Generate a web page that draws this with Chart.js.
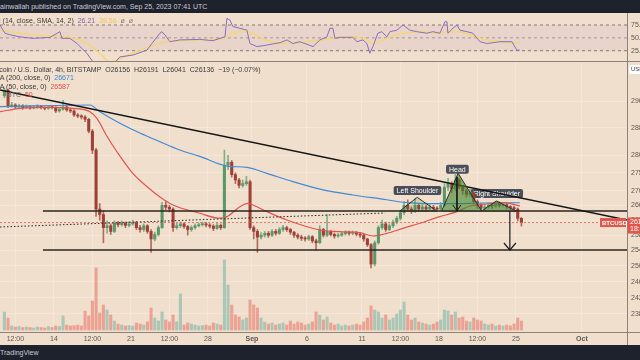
<!DOCTYPE html>
<html>
<head>
<meta charset="utf-8">
<script src="https://cdn.jsdelivr.net/npm/chart.js@4.4.0/dist/chart.umd.min.js"></script>
<style>
  body { margin:0; width:640px; height:360px; overflow:hidden; position:relative; background:#f1dfcd; font-family:"Liberation Sans", Arial, sans-serif; }
  .bar { position:absolute; left:0; width:640px; background:#1e222d; color:#c9ccd4; font-size:7px; white-space:nowrap; }
  canvas { position:absolute; left:0; }
  .txt { position:absolute; white-space:nowrap; font-size:7px; line-height:8px; color:#3a3a3a; }
  .sep { position:absolute; background:#8e827a; }
</style>
</head>
<body>
<div class="bar" style="top:0;height:13px;line-height:13px;">ainwallah published on TradingView.com, Sep 25, 2023 07:41 UTC</div>
<canvas id="rsiChart" width="640" height="49" style="top:13px"></canvas>
<canvas id="priceChart" width="640" height="283" style="top:62px"></canvas>
<div class="sep" style="left:0;top:61px;width:640px;height:1px"></div>
<div class="sep" style="left:0;top:332px;width:640px;height:1px"></div>
<div class="sep" style="left:627px;top:13px;width:1px;height:332px"></div>
<div class="bar" style="top:345px;height:15px;line-height:15px;">TradingView</div>

<div class="txt" style="left:-11px;top:17px">RSI (14, close, SMA, 14, 2)&nbsp; <span style="color:#7e5fb8">26.21</span>&nbsp; <span style="color:#e8c95a">39.56</span>&nbsp; <span style="color:#8a7f78">ø&nbsp; ø</span></div>
<div class="txt" style="left:-9px;top:66px">Bitcoin / U.S. Dollar, 4h, BITSTAMP&nbsp; O26156&nbsp; H26191&nbsp; L26041&nbsp; C26136&nbsp; −19 (−0.07%)</div>
<div class="txt" style="left:-6px;top:74px">MA (200, close, 0)&nbsp; <span style="color:#3f86d4">26671</span></div>
<div class="txt" style="left:-6px;top:83px">MA (50, close, 0)&nbsp; <span style="color:#e0514a">26587</span></div>
<div class="txt" style="left:7px;top:91px;color:#6b6b6b">BTC&nbsp; <span style="color:#e0514a">50</span></div>
<div class="txt" style="left:629px;top:65px;width:14px;height:9px;background:#fff;border-radius:2px;font-size:6px;line-height:9px;padding-left:2px">USD</div>

<script>
// time is in days from Sep 1 00:00 UTC, candles bucketed by 8h
const viewStartDay = -22.9;
const viewEndDay = 34.1;
const candleStartDay = -22 - 2 / 3;
const candleStepDay = 1 / 3;
const firstOpen = 29760;

const closes = [
  29930, 29450, 29480, 29420, 29450, 29400, 29430, 29390, 29410, 29440,
  29400, 29380, 29420, 29400, 29300, 29350, 29420, 29330, 29300, 29180,
  29150, 29120, 29050, 28700, 28150, 26500, 26350, 26000, 26050, 25900,
  26120, 26080, 26120, 26060, 26100, 26140, 26000, 25950, 26050, 25900,
  25700, 25820, 26000, 26600, 26550, 26500, 26000, 26050, 26100, 26030,
  25950, 26000, 26050, 26080, 26100, 26070, 26040, 25980, 26060, 26000,
  27720, 27800, 27450, 27300, 27150, 27200, 27250, 26000, 25900, 25750,
  25800, 25850, 25800, 25900, 25850, 25950, 26000, 25950, 25880, 25800,
  25750, 25720, 25700, 25760, 25650, 25600, 25950, 25800, 25900, 25820,
  25780, 25800, 25840, 25880, 25850, 25870, 25830, 25800, 25700, 25550,
  25050, 25600, 26000, 26100, 25950, 26050, 26150, 26250, 26400, 26600,
  26500, 26450, 26600, 26500, 26550, 26500, 26550, 26520, 26500, 26600,
  27100, 27200, 27050, 27300, 27100, 27000, 26900, 26950, 26700, 26600,
  26520, 26560, 26600, 26580, 26650, 26600, 26620, 26560, 26540, 26500,
  26250, 26136
];
const highs = [
  30000, 29960, 29560, 29520, 29500, 29490, 29480, 29460, 29450, 29490,
  29470, 29430, 29460, 29450, 29430, 29400, 29620, 29450, 29370, 29330,
  29220, 29190, 29160, 29080, 28750, 28200, 26650, 26450, 26180, 26100,
  26180, 26170, 26180, 26150, 26160, 26200, 26170, 26060, 26100, 26080,
  25950, 25880, 26050, 26680, 26700, 26600, 26530, 26120, 26150, 26130,
  26060, 26050, 26100, 26130, 26150, 26140, 26110, 26080, 26120, 26100,
  28150, 28000, 27850, 27500, 27350, 27300, 27400, 27300, 26050, 25950,
  25870, 25900, 25900, 25950, 25950, 26000, 26060, 26040, 25980, 25900,
  25840, 25800, 25760, 25800, 25790, 25700, 26050, 25980, 26350, 25930,
  25860, 25850, 25880, 25920, 25910, 25910, 25900, 25860, 25830, 25720,
  25580, 25650, 26050, 26200, 26150, 26100, 26200, 26300, 26450, 26700,
  26750, 26560, 26800, 26650, 26620, 26600, 26620, 26600, 26570, 26680,
  27200, 27350, 27250, 27480, 27350, 27150, 27050, 27050, 26980, 26750,
  26650, 26620, 26650, 26640, 26700, 26700, 26680, 26650, 26600, 26580,
  26530, 26270
];
const lows = [
  29700, 29400, 29410, 29370, 29380, 29350, 29370, 29350, 29360, 29380,
  29360, 29330, 29350, 29360, 29250, 29260, 29320, 29290, 29250, 29140,
  29100, 29060, 28980, 28650, 28050, 26300, 26200, 25600, 25850, 25820,
  25870, 26020, 26040, 26000, 26020, 26060, 25950, 25880, 25900, 25850,
  25350, 25650, 25780, 25980, 26480, 26420, 25900, 25960, 26000, 25980,
  25800, 25900, 25960, 26020, 26040, 26020, 25990, 25920, 25950, 25950,
  25980, 27600, 27380, 27200, 27080, 27100, 27150, 25950, 25700, 25350,
  25700, 25750, 25740, 25760, 25800, 25820, 25900, 25900, 25820, 25740,
  25700, 25660, 25640, 25660, 25600, 25400, 25580, 25750, 25760, 25780,
  25720, 25740, 25770, 25800, 25800, 25810, 25780, 25740, 25640, 25500,
  24950, 25000, 25560, 25950, 25900, 25920, 26000, 26100, 26200, 26350,
  26450, 26380, 26400, 26440, 26460, 26430, 26460, 26460, 26440, 26460,
  26560, 27000, 26950, 27000, 27050, 26900, 26820, 26850, 26650, 26520,
  26450, 26480, 26520, 26520, 26550, 26550, 26560, 26500, 26480, 26420,
  26180, 26041
];
const volumes = [
  180, 120, 40, 30, 35, 25, 30, 25, 20, 30,
  25, 20, 35, 25, 40, 35, 140, 50, 40, 45,
  50, 40, 190, 140, 290, 620, 170, 250, 200, 150,
  90, 60, 50, 40, 45, 40, 70, 60, 50, 80,
  220, 120, 90, 180, 100, 80, 150, 80, 360, 50,
  70, 60, 50, 40, 45, 50, 40, 70, 60, 50,
  700, 450, 250, 150, 130, 100, 120, 300, 250, 220,
  120, 80, 60, 70, 50, 60, 70, 50, 90, 60,
  80, 70, 50, 60, 80, 180, 150, 100, 130, 70,
  50, 60, 40, 50, 40, 50, 60, 50, 80, 120,
  240, 200, 180, 120, 150, 100, 120, 160, 200, 280,
  150, 100, 120, 80, 70, 60, 50, 60, 80, 100,
  200, 190, 150, 180, 120, 130, 90, 80, 120, 100,
  90, 60, 50, 60, 40, 50, 40, 50, 40, 60,
  120, 90
];

const ma200Days = [-22.91, -14.73, -13.82, -12.0, -10.18, -8.36, -6.55, -4.73, -2.27, -0.45, 1.36, 3.73, 6.18, 9.18, 12.27, 13.73, 15.27, 18.27, 20.73, 24.36];
const ma200Values = [29430, 29479, 29277, 28935, 28646, 28392, 28151, 27967, 27693, 27656, 27487, 27253, 27046, 26884, 26754, 26685, 26656, 26646, 26664, 26671];
const ma50Days = [-22.91, -21.09, -18.36, -16.27, -14.73, -14.09, -13.18, -12.27, -10.82, -9.55, -8.36, -7.18, -4.73, -2.91, -2.27, -1.09, -0.36, 0.09, 1.36, 3.18, 6.18, 8.0, 9.82, 11.0, 12.27, 13.73, 15.27, 17.09, 18.64, 19.82, 21.36, 22.82, 24.36];
const ma50Values = [29277, 29380, 29410, 29380, 29277, 29080, 28551, 28102, 27487, 27120, 26830, 26610, 26385, 26252, 26294, 26563, 26655, 26610, 26430, 26204, 25937, 25893, 25866, 25779, 25850, 25982, 26116, 26294, 26429, 26582, 26637, 26673, 26587];

const rsiDays = [-22.91, -22.45, -22.0, -21.09, -19.9, -18.36, -17.45, -17.27, -16.55, -15.9, -15.0, -14.45, -13.8, -13.0, -12.45, -12.0, -10.8, -9.55, -9.09, -8.36, -8.18, -7.9, -7.45, -6.55, -4.73, -3.55, -2.9, -2.45, -2.27, -2.0, -1.73, -1.09, -0.45, -0.18, 0.45, 1.36, 2.55, 3.18, 3.73, 4.36, 5.55, 6.18, 6.82, 7.09, 7.36, 7.55, 8.0, 9.18, 9.55, 10.09, 10.45, 10.73, 11.0, 11.45, 11.82, 12.27, 12.55, 13.18, 13.73, 14.36, 15.0, 15.91, 16.45, 17.09, 17.55, 17.73, 17.82, 18.27, 18.64, 18.91, 19.55, 20.09, 20.73, 21.36, 21.91, 22.55, 23.64, 24.09, 24.36];
const rsiValues = [75, 59, 56, 52, 49, 51, 62, 49, 49, 39, 20, 3, 1, 1, 2, 13, 16.6, 26, 39, 59, 62, 55.5, 42.5, 46, 47, 44.5, 49, 52, 88, 84.7, 72, 68.6, 65, 39, 33, 36, 40.6, 46, 39, 42.5, 33, 46, 52, 68.6, 68.6, 49, 51, 51, 42.5, 46, 39, 20, 33, 59, 62, 52, 62, 65, 75, 65, 62, 59, 62, 59, 81.4, 81.4, 59, 68.6, 75, 65, 62, 59, 42.5, 39, 40.6, 42.5, 42.5, 26, 26.21];
const rsiMaDays = [-22.91, -22.0, -19.91, -16.82, -15.0, -13.82, -12.91, -12.27, -10.82, -9.27, -7.73, -6.27, -4.73, -2.91, -1.73, -0.45, 0.09, 1.36, 2.82, 4.36, 6.18, 6.82, 8.0, 9.18, 10.45, 11.0, 12.27, 13.73, 15.27, 16.82, 17.73, 18.91, 19.82, 21.36, 22.82, 24.36];
const rsiMaValues = [65, 62, 55.5, 52, 39, 20, 3, 7, 20, 33, 42.5, 44.5, 46, 47, 59, 63, 58, 45, 39, 40.6, 46, 47, 52, 52, 46, 39, 49, 59, 62, 59, 62, 62, 55.5, 46, 42.5, 39.56];
const rsiLevels = [75, 50, 25];

const xTickDays = [-21.5, -18, -14.5, -11, -7.5, -4, 0, 5, 10, 13.5, 17, 20.5, 24, 30];
const xTickLabels = ['12:00', '14', '12:00', '21', '12:00', '28', 'Sep', '6', '11', '12:00', '18', '12:00', '25', 'Oct'];
const priceTicks = [29600, 28800, 28000, 27500, 27000, 26600, 26200, 25800, 25400, 25000, 24600, 24200, 23800];
const rsiTicks = [25, 50, 75];

// drawings (day, price)
const trendDays = [-22.9, 34.1], trendPrices = [29935, 26204];
const necklineDays = [-19.0, 34.1], necklinePrice = 26447;
const supportDays = [-19.0, 34.1], supportPrice = 25412;
const dottedDays = [-22.9, 12.09], dottedPrices = [26017, 26393];
const lastPrice = 26136;
const headDays = [17.25, 18.75, 20.88, 17.25], headPrices = [26447, 27487, 26447, 26447];
const leftShoulderDays = [13.45, 15.03, 16.82, 13.45], leftShoulderPrices = [26447, 26818, 26447, 26447];
const rightShoulderDays = [20.88, 22.23, 24.0, 20.88], rightShoulderPrices = [26447, 26720, 26447, 26447];
const headMoveDays = [18.64, 18.64], headMovePrices = [27384, 26447];
const headMoveTipDays = [18.27, 18.64, 19.0], headMoveTipPrices = [26610, 26447, 26610];
const targetDays = [23.45, 23.45], targetPrices = [26447, 25412];
const targetTipDays = [22.91, 23.45, 24.0], targetTipPrices = [25594, 25412, 25594];
const patternLabels = ['Left Shoulder', 'Head', 'Right Shoulder'];
const patternLabelDays = [15.05, 18.68, 22.27];
const patternLabelPrices = [27008, 27600, 26925];

const opens = closes.map((c, i) => (i ? closes[i - 1] : firstOpen));
const candleDays = closes.map((c, i) => candleStartDay + (i + 0.5) * candleStepDay);
const rising = closes.map((c, i) => c >= opens[i]);

const pts = (days, vals) => days.map((d, i) => ({ x: d, y: Array.isArray(vals) ? vals[i] : vals }));
const line = (data, color, extra) => Object.assign({
  type: 'line', data, borderColor: color, borderWidth: 1, pointRadius: 0, fill: false, yAxisID: 'y'
}, extra);

const upColor = '#5a9868', downColor = '#9e4035';

const tagPlugin = {
  id: 'tags',
  beforeDatasetsDraw(chart) {
    const { ctx, scales } = chart;
    ctx.save();
    ctx.font = '7px "Liberation Sans", Arial, sans-serif';
    ctx.textAlign = 'center';
    ctx.textBaseline = 'middle';
    patternLabels.forEach((t, i) => {
      const x = scales.x.getPixelForValue(patternLabelDays[i]);
      const y = scales.y.getPixelForValue(patternLabelPrices[i]);
      const w = ctx.measureText(t).width + 6;
      ctx.fillStyle = '#4b4e58';
      ctx.beginPath();
      ctx.roundRect(x - w / 2, y - 4.5, w, 9, 2);
      ctx.fill();
      ctx.fillStyle = '#ffffff';
      ctx.fillText(t, x, y + 0.5);
    });
    ctx.restore();
  },
  afterDraw(chart) {
    const { ctx, scales, chartArea } = chart;
    const y = scales.y.getPixelForValue(lastPrice);
    ctx.save();
    ctx.fillStyle = '#e2574c';
    ctx.fillRect(chartArea.right - 27, y - 4.5, 26, 9);
    ctx.fillRect(chartArea.right + 1, y - 5, 13, 16);
    ctx.fillStyle = '#ffffff';
    ctx.font = 'bold 6px "Liberation Sans", Arial, sans-serif';
    ctx.textBaseline = 'middle';
    ctx.fillText('BTCUSD', chartArea.right - 25, y + 0.5);
    ctx.font = '7px "Liberation Sans", Arial, sans-serif';
    ctx.fillText(lastPrice.toFixed(2), chartArea.right + 3, y - 0.5);
    ctx.fillText('18:59', chartArea.right + 3, y + 6.5);
    ctx.restore();
  }
};

new Chart(document.getElementById('priceChart'), {
  type: 'bar',
  data: {
    datasets: [
      line(pts(headMoveDays, headMovePrices), '#1b1b1b', { order: 1 }),
      line(pts(headMoveTipDays, headMoveTipPrices), '#1b1b1b', { order: 1 }),
      line(pts(targetDays, targetPrices), '#1b1b1b', { order: 1, borderWidth: 1.2 }),
      line(pts(targetTipDays, targetTipPrices), '#1b1b1b', { order: 1, borderWidth: 1.2 }),
      line(pts(headDays, headPrices), '#2e2e2e', { order: 2, fill: 'shape', backgroundColor: 'rgba(62,132,42,0.6)' }),
      line(pts(rightShoulderDays, rightShoulderPrices), '#2e2e2e', { order: 2, fill: 'shape', backgroundColor: 'rgba(62,132,42,0.6)' }),
      line(pts(leftShoulderDays, leftShoulderPrices), '#2e2e2e', { order: 2, fill: 'shape', backgroundColor: 'rgba(62,132,42,0.15)' }),
      line(pts(trendDays, trendPrices), '#161616', { order: 3, borderWidth: 1.4 }),
      line(pts(necklineDays, necklinePrice), '#2b2522', { order: 3, borderWidth: 1.4 }),
      line(pts(supportDays, supportPrice), '#2b2522', { order: 3, borderWidth: 1.4 }),
      line(pts(dottedDays, dottedPrices), '#2b2522', { order: 3, borderDash: [1.5, 2] }),
      line(pts([viewStartDay, viewEndDay], lastPrice), 'rgba(226,87,76,0.75)', { order: 4, borderDash: [2, 2] }),
      line(pts(ma50Days, ma50Values), '#e3544c', { order: 5, borderWidth: 1.2, cubicInterpolationMode: 'monotone' }),
      line(pts(ma200Days, ma200Values), '#4289d6', { order: 5, borderWidth: 1.2, cubicInterpolationMode: 'monotone' }),
      {
        type: 'bar', order: 6, grouped: false, barThickness: 2.4, minBarLength: 1, yAxisID: 'y',
        data: closes.map((c, i) => ({ x: candleDays[i], y: [opens[i], c] })),
        backgroundColor: rising.map(r => (r ? upColor : downColor))
      },
      {
        type: 'bar', order: 7, grouped: false, barThickness: 1, yAxisID: 'y',
        data: closes.map((c, i) => ({ x: candleDays[i], y: [lows[i], highs[i]] })),
        backgroundColor: rising.map(r => (r ? '#7fae88' : '#b46a60'))
      },
      {
        type: 'bar', order: 8, grouped: false, barThickness: 2.4, yAxisID: 'yv',
        data: volumes.map((v, i) => ({ x: candleDays[i], y: v })),
        backgroundColor: rising.map(r => (r ? 'rgba(70,165,150,0.42)' : 'rgba(232,100,90,0.5)'))
      }
    ]
  },
  options: {
    responsive: false,
    animation: false,
    devicePixelRatio: 1,
    layout: { padding: 0 },
    plugins: { legend: { display: false }, tooltip: { enabled: false } },
    scales: {
      x: {
        type: 'linear', min: viewStartDay, max: viewEndDay, bounds: 'data', offset: false,
        afterBuildTicks: s => { s.ticks = xTickDays.map(v => ({ value: v })); },
        afterFit: s => { s.height = 13; s.paddingLeft = 0; s.paddingRight = 0; },
        ticks: {
          autoSkip: false, maxRotation: 0, padding: 3, color: '#5b5755',
          font: c => ({ size: 7, weight: /^[A-Z]/.test(xTickLabels[c.index] || '') ? 'bold' : 'normal' }),
          callback: (v, i) => xTickLabels[i]
        },
        grid: { color: 'rgba(255,255,255,0.22)', drawTicks: false, offset: false },
        border: { display: false }
      },
      y: {
        type: 'logarithmic', position: 'right', min: 23365, max: 30806, bounds: 'data',
        afterBuildTicks: s => { s.ticks = priceTicks.map(v => ({ value: v })); },
        afterFit: s => { s.width = 13; s.paddingTop = 0; s.paddingBottom = 0; },
        ticks: { padding: 4, color: '#5b5755', font: { size: 7 }, callback: v => Number(v).toFixed(2) },
        grid: { color: 'rgba(255,255,255,0.22)', drawTicks: false },
        border: { display: false }
      },
      yv: { display: false, min: -20, max: 2680 }
    }
  },
  plugins: [tagPlugin]
});

new Chart(document.getElementById('rsiChart'), {
  type: 'line',
  data: {
    datasets: [
      { data: pts([viewStartDay, viewEndDay], rsiLevels[0]), borderColor: 'rgba(120,110,105,0.9)', borderDash: [3, 3], borderWidth: 1, pointRadius: 0, fill: '+2', backgroundColor: 'rgba(126,87,194,0.08)', order: 5 },
      { data: pts([viewStartDay, viewEndDay], rsiLevels[1]), borderColor: 'rgba(120,110,105,0.6)', borderDash: [3, 3], borderWidth: 1, pointRadius: 0, fill: false, order: 5 },
      { data: pts([viewStartDay, viewEndDay], rsiLevels[2]), borderColor: 'rgba(120,110,105,0.9)', borderDash: [3, 3], borderWidth: 1, pointRadius: 0, fill: false, order: 5 },
      { data: pts(rsiMaDays, rsiMaValues), borderColor: 'rgba(245,214,110,0.9)', borderWidth: 1.5, pointRadius: 0, cubicInterpolationMode: 'monotone', order: 2 },
      { data: pts(rsiDays, rsiValues), borderColor: '#8a6cc0', borderWidth: 1, pointRadius: 0, order: 1 }
    ]
  },
  options: {
    responsive: false,
    animation: false,
    devicePixelRatio: 1,
    layout: { padding: 0 },
    plugins: { legend: { display: false }, tooltip: { enabled: false } },
    scales: {
      x: { type: 'linear', min: viewStartDay, max: viewEndDay, display: false },
      y: {
        position: 'right', min: 3.02, max: 98.35,
        afterBuildTicks: s => { s.ticks = rsiTicks.map(v => ({ value: v })); },
        afterFit: s => { s.width = 13; s.paddingTop = 0; s.paddingBottom = 0; },
        ticks: { padding: 4, color: '#5b5755', font: { size: 7 }, callback: v => Number(v).toFixed(2) },
        grid: { display: false, drawTicks: false },
        border: { display: false }
      }
    }
  }
});
</script>
</body>
</html>
